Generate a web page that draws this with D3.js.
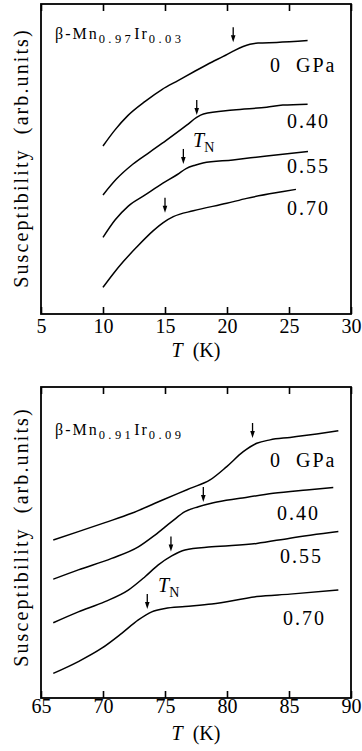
<!DOCTYPE html>
<html>
<head>
<meta charset="utf-8">
<script src="https://cdn.jsdelivr.net/npm/d3@7/dist/d3.min.js"></script>
<style>
  html, body { margin: 0; padding: 0; background: #fff; }
  svg { display: block; }
  text { font-family: "Liberation Serif", "Times New Roman", serif; fill: #000; }
</style>
</head>
<body>
<svg id="chart" width="362" height="751" font-family="Liberation Serif, serif"></svg>
<script>
// β-Mn0.97Ir0.03 : temperature (K) and susceptibility (arb. units) at each pressure
const tempA_0   = [10.0, 10.97, 12.0, 13.4, 14.75, 16.05, 17.4, 18.8, 19.7, 20.5, 21.3, 21.85, 22.5, 24.0, 26.5];
const chiA_0    = [54.2, 59.4, 64.0, 68.6, 72.4, 75.3, 78.3, 81.3, 83.1, 84.8, 86.3, 87.0, 87.4, 87.6, 88.2];
const tempA_040 = [10.0, 11.1, 12.4, 13.8, 15.1, 16.75, 17.55, 18.1, 20.5, 23.2, 24.5, 26.5];
const chiA_040  = [38.4, 43.6, 48.3, 52.3, 56.0, 60.9, 63.4, 64.5, 65.8, 66.7, 67.4, 67.7];
const tempA_055 = [10.0, 10.97, 12.04, 13.4, 14.8, 16.0, 16.7, 17.42, 18.06, 20.48, 23.2, 26.53];
const chiA_055  = [24.7, 30.3, 34.8, 38.4, 42.1, 45.0, 46.9, 48.0, 48.7, 49.7, 51.0, 52.4];
const tempA_070 = [10.0, 10.83, 11.64, 12.72, 14.06, 14.86, 15.67, 17.28, 19.98, 21.59, 24.54, 25.56];
const chiA_070  = [8.6, 13.0, 16.9, 21.6, 26.9, 29.5, 31.4, 33.3, 35.7, 37.3, 39.5, 40.2];
const tnA       = [20.5, 17.56, 16.48, 15.0];   // Néel temperature arrows
const tnTipA    = [87.7, 64.2, 48.4, 32.7];

// β-Mn0.91Ir0.09
const tempB_0   = [65.99, 68.01, 70.16, 72.31, 74.19, 76.07, 77.02, 78.63, 79.98, 81.31, 82.40, 83.47, 85.08, 87.23, 88.98];
const chiB_0    = [50.8, 53.5, 56.4, 59.4, 62.6, 65.8, 67.4, 70.1, 74.4, 79.2, 81.9, 83.0, 83.8, 84.9, 85.9];
const tempB_040 = [65.99, 68.01, 70.70, 72.85, 74.19, 75.54, 76.61, 77.69, 78.90, 81.05, 83.73, 86.43, 88.57];
const chiB_040  = [38.2, 41.2, 44.9, 48.6, 52.4, 56.7, 59.9, 61.5, 62.8, 64.2, 65.8, 66.9, 67.7];
const tempB_055 = [65.99, 68.01, 70.16, 72.04, 73.39, 74.46, 75.54, 76.61, 78.77, 82.40, 85.08, 88.98];
const chiB_055  = [24.2, 27.7, 31.0, 34.7, 39.0, 42.8, 45.7, 47.6, 48.6, 49.7, 51.4, 53.5];
const tempB_070 = [65.99, 68.01, 69.90, 71.51, 72.85, 73.93, 75.0, 76.61, 78.77, 82.40, 85.08, 88.98];
const chiB_070  = [7.9, 11.7, 16.0, 20.8, 25.1, 27.7, 28.8, 29.4, 30.2, 32.6, 33.4, 34.7];
const tnB       = [82.06, 78.09, 75.48, 73.57];
const tnTipB    = [83.6, 63.0, 47.1, 28.6];

const pressureLabels = ["0  GPa", "0.40", "0.55", "0.70"];
const ticksA = [5, 10, 15, 20, 25, 30];
const ticksB = [65, 70, 75, 80, 85, 90];

const svg = d3.select("#chart");
const SERIF = '"Liberation Serif", "Times New Roman", serif';

function drawPanel(o) {
  const x = d3.scaleLinear().domain(o.xDomain).range([o.left, o.right]);
  const y = d3.scaleLinear().domain([0, 100]).range([o.bottom, o.top]);
  const g = svg.append("g");

  // tick marks pointing inward on the bottom and top edges
  const axB = g.append("g").attr("transform", `translate(0,${o.bottom})`)
    .call(d3.axisBottom(x).tickValues(o.ticks).tickSizeInner(-7).tickSizeOuter(0).tickPadding(o.tickPad));
  const axT = g.append("g").attr("transform", `translate(0,${o.top})`)
    .call(d3.axisTop(x).tickValues(o.ticks).tickSizeInner(-7).tickSizeOuter(0).tickFormat(""));
  [axB, axT].forEach(a => {
    a.attr("font-family", SERIF);
    a.select(".domain").remove();
    a.selectAll(".tick line").attr("stroke", "#000").attr("stroke-width", 1.6);
  });
  axB.selectAll(".tick text")
    .style("font-family", SERIF)
    .attr("font-size", 20).attr("fill", "#000");

  // frame
  g.append("rect")
    .attr("x", o.left).attr("y", o.top)
    .attr("width", o.right - o.left).attr("height", o.bottom - o.top)
    .attr("fill", "none").attr("stroke", "#000").attr("stroke-width", 1.8);

  // curves
  const line = d3.line().x(d => x(d[0])).y(d => y(d[1])).curve(d3.curveMonotoneX);
  o.series.forEach(s => {
    g.append("path")
      .datum(d3.zip(s[0], s[1]))
      .attr("d", line)
      .attr("fill", "none").attr("stroke", "#000").attr("stroke-width", 1.5)
      .attr("stroke-linejoin", "round");
  });

  // T_N arrows
  o.tn.forEach((t, i) => {
    const ax = x(t), tip = y(o.tnTip[i]);
    g.append("line")
      .attr("x1", ax).attr("x2", ax).attr("y1", tip - 15).attr("y2", tip - 5)
      .attr("stroke", "#000").attr("stroke-width", 1.3);
    g.append("path")
      .attr("d", `M${ax - 2.3},${tip - 7}L${ax + 2.3},${tip - 7}L${ax},${tip}Z`)
      .attr("fill", "#000");
  });

  // pressure labels
  pressureLabels.forEach((p, i) => {
    g.append("text")
      .attr("x", o.labelX[i]).attr("y", o.labelY[i])
      .attr("font-size", 20).attr("letter-spacing", 2)
      .style("white-space", "pre")
      .text(p);
  });

  // compound name
  const nm = g.append("text").attr("x", o.left + 14).attr("y", o.top + o.nameDy)
    .attr("font-size", 16).attr("letter-spacing", 2);
  nm.append("tspan").text("β-Mn");
  nm.append("tspan").attr("font-size", 12.5).attr("dy", 4).attr("letter-spacing", 3.4).text(o.sub1);
  nm.append("tspan").attr("dy", -4).text("Ir");
  nm.append("tspan").attr("font-size", 12.5).attr("dy", 4).attr("letter-spacing", 3.4).text(o.sub2);

  // T_N label
  const tnl = g.append("text").attr("x", o.tnLabel[0]).attr("y", o.tnLabel[1]).attr("font-size", 20);
  tnl.append("tspan").attr("font-style", "italic").text("T");
  tnl.append("tspan").attr("font-size", 14).attr("dy", 5).text("N");

  // axis titles
  const xt = g.append("text").attr("x", 196).attr("y", o.xTitleY)
    .attr("font-size", 20).attr("text-anchor", "middle").style("white-space", "pre");
  xt.append("tspan").attr("font-style", "italic").text("T");
  xt.append("tspan").text("  (K)");

  g.append("text")
    .attr("transform", `translate(28,${o.yTitleC}) rotate(-90)`)
    .attr("text-anchor", "middle").attr("font-size", 20).attr("letter-spacing", 2.1)
    .style("white-space", "pre")
    .text("Susceptibility  (arb.units)");
}

drawPanel({
  xDomain: [5, 30], ticks: ticksA,
  left: 41, right: 351, top: 4, bottom: 314, tickPad: 5,
  series: [[tempA_0, chiA_0], [tempA_040, chiA_040], [tempA_055, chiA_055], [tempA_070, chiA_070]],
  tn: tnA, tnTip: tnTipA,
  labelX: [270, 287, 287, 287], labelY: [72, 128, 173, 215],
  sub1: "0.97", sub2: "0.03", nameDy: 35,
  tnLabel: [193, 147], xTitleY: 357, yTitleC: 158
});

drawPanel({
  xDomain: [65, 90], ticks: ticksB,
  left: 41, right: 351, top: 387, bottom: 698, tickPad: 1,
  series: [[tempB_0, chiB_0], [tempB_040, chiB_040], [tempB_055, chiB_055], [tempB_070, chiB_070]],
  tn: tnB, tnTip: tnTipB,
  labelX: [270, 277, 280, 283], labelY: [467, 520, 563, 625],
  sub1: "0.91", sub2: "0.09", nameDy: 48,
  tnLabel: [158, 592], xTitleY: 740, yTitleC: 537
});
</script>
</body>
</html>
